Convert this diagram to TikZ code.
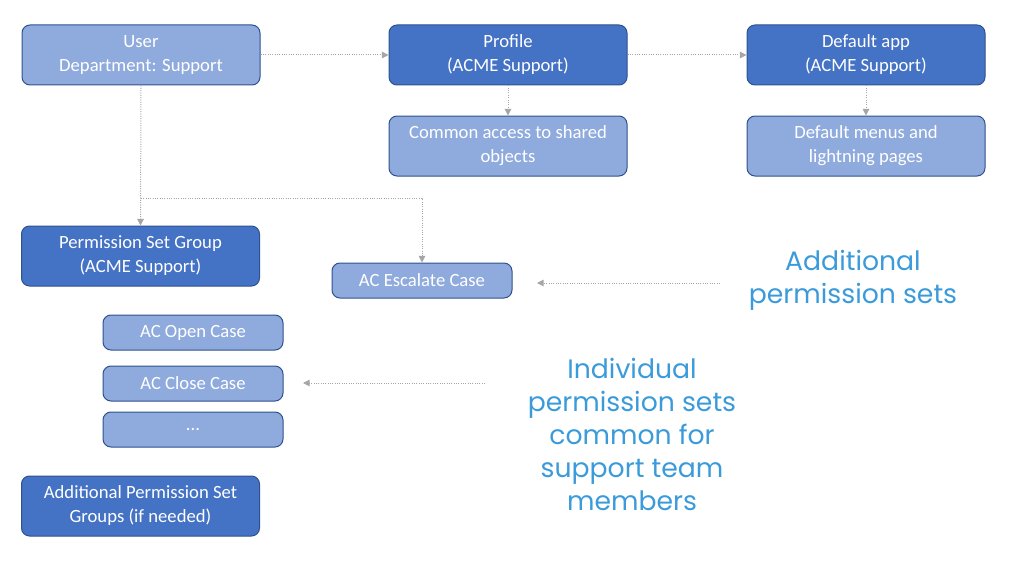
\documentclass[tikz,border=0pt]{standalone}
\usepackage{fontspec}
\setmainfont{Carlito}
\newfontfamily\notefont{Poppins}
\usetikzlibrary{arrows.meta}

\definecolor{boxdark}{RGB}{68,114,196}
\definecolor{boxlight}{RGB}{143,170,220}
\definecolor{boxline}{RGB}{47,82,143}
\definecolor{linkgray}{RGB}{166,166,166}
\definecolor{noteblue}{RGB}{59,155,218}

\tikzset{every picture/.style={line width=0.75pt}}
\tikzset{
  box/.style={draw=boxline, rounded corners=6pt, text=white, align=center,
    font=\fontsize{14}{18}\selectfont, inner sep=0pt},
  bigbox/.style={box, minimum width=178.5pt, minimum height=45pt},
  smallbox/.style={box, minimum width=135pt, minimum height=26.25pt},
  darkbox/.style={fill=boxdark},
  lightbox/.style={fill=boxlight},
  link/.style={draw=linkgray, line width=0.75pt, dash pattern=on 0.75pt off 1pt,
    -{Triangle[length=5pt,width=5pt,fill=linkgray]}},
  note/.style={text=noteblue, align=center, font=\notefont\fontsize{20}{24.75}\selectfont}
}

\begin{document}
\begin{tikzpicture}[x=0.75pt,y=0.75pt,yscale=-1,xscale=1]
	\useasboundingbox (0,0) rectangle (1024,567);

	% Top row
	\node [bigbox, lightbox] (user) at (141,55) {User\\Department: Support};
	\node [bigbox, darkbox] (profile) at (508,55) {Profile\\(ACME Support)};
	\node [bigbox, darkbox] (app) at (866,55) {Default app\\(ACME Support)};
	% Second row
	\node [bigbox, lightbox] (access) at (508,146) {Common access to shared\\objects};
	\node [bigbox, lightbox] (menus) at (866,146) {Default menus and\\lightning pages};
	% Permission set groups
	\node [bigbox, darkbox] (psg) at (140.5,256) {Permission Set Group\\(ACME Support)};
	\node [bigbox, darkbox] (morepsg) at (140.5,506) {Additional Permission Set\\Groups (if needed)};
	% Permission sets
	\node [smallbox, lightbox] (escalate) at (422,280.5) {AC Escalate Case};
	\node [smallbox, lightbox] (open) at (193,332.5) {AC Open Case};
	\node [smallbox, lightbox] (close) at (193,383.5) {AC Close Case};
	\node [smallbox, lightbox] (etc) at (193,429.5) {...};

	% Text Node
	\node [note] (addnote) at (853,280) {Additional\\permission sets};
	% Text Node
	\node [note] (indnote) at (632,434) {Individual\\permission sets\\common for\\support team\\members};

	% Connectors
	\coordinate (split) at (141,198);
	\coordinate (addtail) at (720,283);
	\coordinate (addhead) at (537,283);
	\coordinate (indtail) at (485,383);
	\coordinate (indhead) at (303,383);

	\draw [link] (user) -- (profile);
	\draw [link] (profile) -- (app);
	\draw [link] (profile) -- (access);
	\draw [link] (app) -- (menus);
	\draw [link] (user.south) -- (psg.north);
	\draw [link] (split) -| (escalate);
	\draw [link] (addtail) -- (addhead);
	\draw [link] (indtail) -- (indhead);

\end{tikzpicture}
\end{document}
